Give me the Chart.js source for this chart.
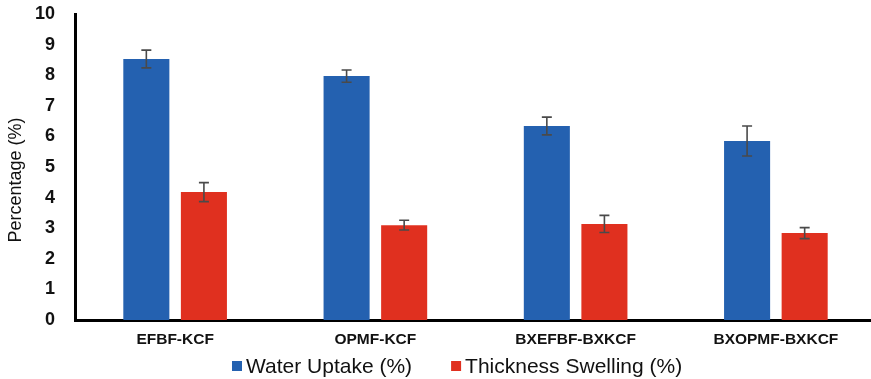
<!DOCTYPE html>
<html>
<head>
<meta charset="utf-8">
<script src="https://cdn.jsdelivr.net/npm/chart.js@4/dist/chart.umd.min.js"></script>
<style>
  html, body { margin: 0; padding: 0; background: #fff; overflow: hidden; }
  #wrap { width: 876px; height: 379px; }
</style>
</head>
<body>
<div id="wrap"><canvas id="c" width="876" height="379"></canvas></div>
<script>
// Panel categories
const categories = ['EFBF-KCF', 'OPMF-KCF', 'BXEFBF-BXKCF', 'BXOPMF-BXKCF'];

// Water uptake (%) and its standard deviation
const waterUptake = [8.53, 7.97, 6.34, 5.85];
const waterUptakeErr = [0.29, 0.20, 0.29, 0.49];

// Thickness swelling (%) and its standard deviation
const thicknessSwelling = [4.18, 3.10, 3.14, 2.84];
const thicknessSwellingErr = [0.31, 0.16, 0.28, 0.18];

// Y axis ticks
const yTicks = [0, 1, 2, 3, 4, 5, 6, 7, 8, 9, 10];

const seriesLabels = ['Water Uptake (%)', 'Thickness Swelling (%)'];
const yAxisTitle = 'Percentage (%)';
const FONT = '"Liberation Sans", Arial, Helvetica, sans-serif';

// Whiskers for each bar, placed with the value scale
const errorBars = {
  id: 'errorBars',
  afterDatasetsDraw(chart) {
    const ctx = chart.ctx;
    const y = chart.scales.y;
    const errs = [waterUptakeErr, thicknessSwellingErr];
    ctx.save();
    ctx.strokeStyle = '#4a4a4a';
    ctx.lineWidth = 1.6;
    chart.data.datasets.forEach((ds, i) => {
      const meta = chart.getDatasetMeta(i);
      meta.data.forEach((bar, j) => {
        const v = ds.data[j], e = errs[i][j];
        const x = bar.x;
        const yTop = y.getPixelForValue(v + e);
        const yBot = y.getPixelForValue(v - e);
        const cap = 5;
        ctx.beginPath();
        ctx.moveTo(x, yTop); ctx.lineTo(x, yBot);
        ctx.moveTo(x - cap, yTop); ctx.lineTo(x + cap, yTop);
        ctx.moveTo(x - cap, yBot); ctx.lineTo(x + cap, yBot);
        ctx.stroke();
      });
    });
    ctx.restore();
  }
};

// Rotated value-axis title, sitting a little below the axis midpoint
const axisTitle = {
  id: 'axisTitle',
  afterDraw(chart, args, opts) {
    const ctx = chart.ctx;
    ctx.save();
    ctx.translate(opts.x, opts.y);
    ctx.rotate(-Math.PI / 2);
    ctx.font = opts.fontSize + 'px ' + FONT;
    ctx.fillStyle = '#111';
    ctx.textAlign = 'center';
    ctx.textBaseline = 'middle';
    ctx.fillText(yAxisTitle, 0, 0);
    ctx.restore();
  }
};

// Legend row under the category labels
const bottomLegend = {
  id: 'bottomLegend',
  afterDraw(chart, args, opts) {
    const ctx = chart.ctx;
    ctx.save();
    ctx.font = opts.fontSize + 'px ' + FONT;
    ctx.textBaseline = 'middle';
    ctx.textAlign = 'left';
    let x = opts.left;
    const yMid = opts.y;
    chart.data.datasets.forEach((ds) => {
      ctx.fillStyle = ds.backgroundColor;
      ctx.fillRect(x, yMid - opts.box / 2, opts.box, opts.box);
      x += opts.box + opts.textGap;
      ctx.fillStyle = '#111';
      ctx.fillText(ds.label, x, yMid + 1);
      x += ctx.measureText(ds.label).width + opts.itemGap;
    });
    ctx.restore();
  }
};

new Chart(document.getElementById('c'), {
  type: 'bar',
  data: {
    labels: categories,
    datasets: [
      { label: seriesLabels[0], data: waterUptake, backgroundColor: '#2461B0' },
      { label: seriesLabels[1], data: thicknessSwelling, backgroundColor: '#E0301F' }
    ]
  },
  options: {
    responsive: false,
    animation: false,
    devicePixelRatio: 1,
    layout: { autoPadding: false, padding: { top: 14, left: 0, right: 0, bottom: 0 } },
    datasets: { bar: { categoryPercentage: 0.575, barPercentage: 0.8 } },
    plugins: {
      legend: { display: false },
      tooltip: { enabled: false },
      axisTitle: { x: 16, y: 180, fontSize: 18 },
      bottomLegend: { left: 232, y: 366, box: 10, textGap: 4, itemGap: 39, fontSize: 21 }
    },
    scales: {
      x: {
        grid: { display: false, drawTicks: false },
        border: { display: true, color: '#000', width: 3 },
        ticks: { color: '#111', font: { family: FONT, size: 15.5, weight: 'bold' }, padding: 10, maxRotation: 0 },
        afterFit(scale) { scale.height = 59; }
      },
      y: {
        min: 0, max: 10,
        grid: { display: false, drawTicks: false },
        border: { display: true, color: '#000', width: 3 },
        afterBuildTicks(scale) { scale.ticks = yTicks.map(v => ({ value: v })); },
        ticks: { color: '#111', font: { family: FONT, size: 18, weight: 'bold' }, padding: 20 },
        afterFit(scale) {
          scale.width = 75;
          // the top label only needs half its height above the plot
          scale.paddingTop = 10;
          scale.paddingBottom = 10;
        }
      }
    }
  },
  plugins: [errorBars, axisTitle, bottomLegend]
});
</script>
</body>
</html>
